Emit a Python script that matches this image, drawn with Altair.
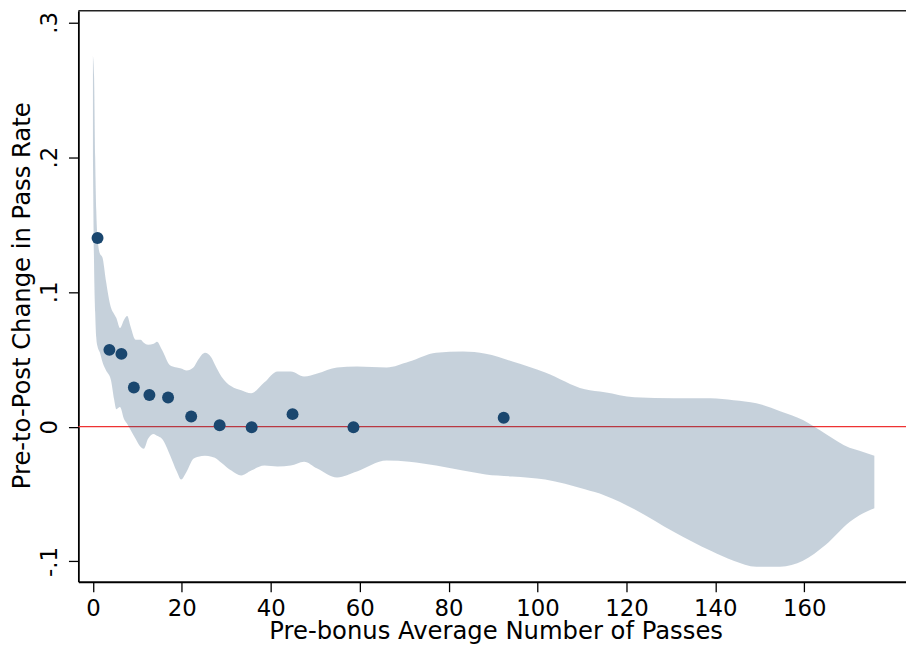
import altair as alt
import pandas as pd

# Scatter points (binned means)
pt_x = [1.03, 3.7, 6.4, 9.2, 12.7, 16.9, 22.1, 28.5, 35.7, 44.9, 58.6, 92.4]
pt_y = [0.140, 0.057, 0.054, 0.029, 0.0235, 0.0216, 0.0076, 0.001, -0.0004, 0.0093, -0.0004, 0.0066]

# Confidence band
band_x = [0.0, 0.25, 0.5, 0.75, 1.0, 1.56, 2.14, 2.90, 4.01, 4.75, 5.26, 6.09, 6.98, 7.71, 8.47,
          9.59, 10.70, 11.44, 12.40, 13.67, 14.40, 15.52, 17.39, 18.86, 19.84, 21.09, 22.59,
          23.70, 25.20, 26.67, 27.42, 28.89, 31.13, 33.36, 35.59, 38.57, 41.54, 44.50, 47.49,
          50.46, 54.92, 59.38, 66.06, 71.19, 77.21, 83.23, 88.36, 94.38, 101.74, 110.66, 115.12,
          121.81, 130.73, 138.98, 144.11, 149.24, 154.59, 159.72, 164.85, 170.20, 172.43, 175.78]
band_hi = [0.275, 0.26, 0.20, 0.16, 0.142, 0.1285, 0.1255, 0.1086, 0.0888, 0.0836, 0.0807, 0.0733,
           0.0792, 0.0821, 0.0741, 0.0645, 0.0645, 0.0623, 0.0608, 0.0615, 0.0630, 0.0571, 0.0454,
           0.0439, 0.0432, 0.0417, 0.0439, 0.0498, 0.0549, 0.0512, 0.0461, 0.0373, 0.0299, 0.0270,
           0.0248, 0.0329, 0.0410, 0.0410, 0.0373, 0.0395, 0.0439, 0.0446, 0.0439, 0.0483, 0.0549,
           0.0557, 0.0542, 0.0483, 0.0402, 0.0277, 0.0255, 0.0218, 0.0211, 0.0211, 0.0196, 0.0174,
           0.0115, 0.0049, -0.0054, -0.0157, -0.0179, -0.0215]
band_lo = [0.20, 0.12, 0.085, 0.066, 0.060, 0.055, 0.048, 0.042, 0.035, 0.0204, 0.0130, 0.0145,
           0.0057, 0.0020, -0.0024, -0.0090, -0.0149, -0.0164, -0.0090, -0.0054, -0.0068, -0.0090,
           -0.0215, -0.0333, -0.0392, -0.0333, -0.0238, -0.0223, -0.0215, -0.0223, -0.0230, -0.0267,
           -0.0326, -0.0362, -0.0326, -0.0289, -0.0296, -0.0289, -0.0260, -0.0311, -0.0377, -0.0333,
           -0.0252, -0.0260, -0.0289, -0.0326, -0.0355, -0.0370, -0.0392, -0.0465, -0.0510, -0.0612,
           -0.0781, -0.0921, -0.0995, -0.1039, -0.1039, -0.0995, -0.0877, -0.0708, -0.0657, -0.0605]

x_ticks = [0, 20, 40, 60, 80, 100, 120, 140, 160]
y_ticks = [-0.1, 0.0, 0.1, 0.2, 0.3]
y_tick_labels = ["-.1", "0", ".1", ".2", ".3"]

x_domain = [-3.28, 182.9]
y_domain = [-0.1151, 0.3086]

NAVY = "#1a476f"
FONT = "DejaVu Sans"

pts = pd.DataFrame({"x": pt_x, "y": pt_y})
band = pd.DataFrame({"x": band_x, "hi": band_hi, "lo": band_lo})

# label expression built from the tick lists
expr = "''"
for v, lab in zip(y_ticks, y_tick_labels):
    expr = f"abs(datum.value - ({v})) < 0.001 ? '{lab}' : " + expr

xscale = alt.Scale(domain=x_domain, nice=False, zero=False)
yscale = alt.Scale(domain=y_domain, nice=False, zero=False)

xaxis = alt.Axis(
    values=x_ticks, title="Pre-bonus Average Number of Passes", grid=False,
    labelFontSize=23, labelFont=FONT, labelColor="black", labelBaseline="alphabetic",
    labelPadding=24, tickSize=10, tickColor="black", tickWidth=1.3,
    domainColor="black", domainWidth=1.8,
    titleFontSize=24.5, titleFont=FONT, titleFontWeight="normal", titleColor="black",
    titleX=421, titleY=57.5, titleBaseline="alphabetic", titleAlign="center",
)
yaxis = alt.Axis(
    values=y_ticks, title="Pre-to-Post Change in Pass Rate", grid=False,
    labelExpr=expr, labelAngle=270, labelAlign="center", labelBaseline="alphabetic",
    labelFontSize=23, labelFont=FONT, labelColor="black", labelPadding=12,
    tickSize=10, tickColor="black", tickWidth=1.3,
    domainColor="black", domainWidth=1.8,
    titleFontSize=24.5, titleFont=FONT, titleFontWeight="normal", titleColor="black",
    titleAngle=270, titleX=-49, titleY=287, titleBaseline="alphabetic", titleAlign="center",
)

zero_line = alt.Chart(pd.DataFrame({"y": [0.0]})).mark_rule(color="#ee3333", strokeWidth=1.1).encode(
    y=alt.Y("y:Q", scale=yscale, axis=yaxis)
)

area = alt.Chart(band).mark_area(color=NAVY, opacity=0.25, interpolate="monotone").encode(
    x=alt.X("x:Q", scale=xscale, axis=xaxis),
    y=alt.Y("hi:Q", scale=yscale, axis=yaxis),
    y2="lo:Q",
)

points = alt.Chart(pts).mark_point(filled=True, color=NAVY, opacity=1, size=145, shape="circle").encode(
    x=alt.X("x:Q", scale=xscale, axis=xaxis),
    y=alt.Y("y:Q", scale=yscale, axis=yaxis),
)

top_line = alt.Chart(pd.DataFrame({"y": [y_domain[1]]})).mark_rule(color="#222222", strokeWidth=1.5).encode(
    y=alt.Y("y:Q", scale=yscale, axis=yaxis)
)

chart = alt.layer(zero_line, area, points, top_line).properties(
    width=835, height=576,
    autosize=alt.AutoSizeParams(type="none"),
    padding={"left": 71, "top": 0, "right": 0, "bottom": 67},
    background="white",
).configure_view(stroke=None)

chart.save("out.html", embed_options={"renderer": "svg", "actions": False})
